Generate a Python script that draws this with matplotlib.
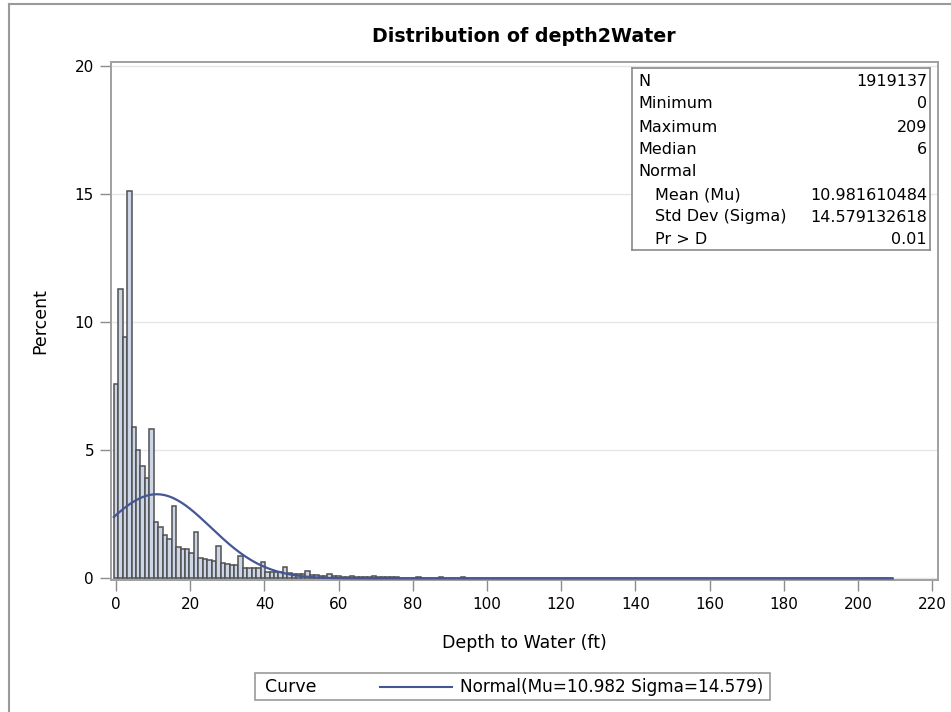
import numpy as np
import matplotlib
matplotlib.use("Agg")
import matplotlib.pyplot as plt
from matplotlib.lines import Line2D
from matplotlib.patches import Rectangle

# =====================
# STYLE
# =====================
plt.rcParams.update({
    "font.family": "DejaVu Sans",
    "font.size": 11,
    "xtick.labelsize": 11,
    "ytick.labelsize": 11,
})

# =====================
# Data
# =====================
bin_width = 1.2
pct = [
    7.6, 11.3, 9.4, 15.1, 5.9, 5.0, 4.4, 3.9, 5.84, 2.2,
    2.0, 1.7, 1.55, 2.84, 1.23, 1.16, 1.13, 0.99, 1.82, 0.81,
    0.76, 0.72, 0.70, 1.27, 0.60, 0.56, 0.54, 0.52, 0.88, 0.40,
    0.40, 0.39, 0.39, 0.66, 0.27, 0.27, 0.25, 0.24, 0.46, 0.20,
    0.19, 0.18, 0.17, 0.28, 0.13, 0.12, 0.11, 0.10, 0.18, 0.08,
    0.08, 0.07, 0.07, 0.11, 0.05, 0.05, 0.05, 0.05, 0.08, 0.04,
    0.04, 0.04, 0.04, 0.07, 0.03, 0.03, 0.03, 0.03, 0.05, 0.03,
    0.03, 0.02, 0.02, 0.04, 0.02, 0.02, 0.02, 0.02, 0.04, 0.02,
    0.02, 0.02, 0.02, 0.03, 0.015, 0.015, 0.015, 0.015, 0.025, 0.01,
    0.01, 0.01, 0.01, 0.018, 0.01, 0.01, 0.01, 0.01, 0.015, 0.008,
    0.008, 0.008, 0.008, 0.012, 0.007, 0.007, 0.007, 0.007, 0.01, 0.006,
    0.006, 0.006, 0.006, 0.009, 0.005, 0.005, 0.005, 0.005, 0.008, 0.005,
    0.005, 0.004, 0.004, 0.007, 0.004, 0.004, 0.004, 0.004, 0.006, 0.004,
    0.004, 0.003, 0.003, 0.005, 0.003, 0.003, 0.003, 0.003, 0.005, 0.003,
    0.003, 0.003, 0.003, 0.004, 0.002, 0.002, 0.002, 0.002, 0.004, 0.002,
    0.002, 0.002, 0.002, 0.003, 0.002, 0.002, 0.002, 0.002, 0.003, 0.002,
    0.002, 0.001, 0.001, 0.002, 0.001, 0.001, 0.001, 0.001, 0.002, 0.001,
    0.001, 0.001, 0.001, 0.002, 0.001,
]

mu = 10.981610484
sigma = 14.579132618

stat_labels = ["N", "Minimum", "Maximum", "Median", "Normal",
               "Mean (Mu)", "Std Dev (Sigma)", "Pr > D"]
stat_values = ["1919137", "0", "209", "6", "",
               "10.981610484", "14.579132618", "0.01"]
stat_indent = [False, False, False, False, False, True, True, True]

x_ticks = list(range(0, 221, 20))
y_ticks = [0, 5, 10, 15, 20]

# =====================
# Figure
# =====================
W, H = 951, 712
fig = plt.figure(figsize=(W / 100, H / 100), dpi=100)
ax = fig.add_axes([110.7 / W, 1 - 580 / H, (938 - 110.7) / W, (580 - 61.7) / H])

centers = bin_width * np.arange(len(pct))
ax.bar(centers, pct, width=bin_width, color="#CDD6E6",
       edgecolor="#505050", linewidth=1.1, zorder=2)

# fitted normal curve (scaled to percent per bin)
xs = np.linspace(centers[0] - bin_width / 2, centers[-1] + bin_width / 2, 600)
ys = 100 * bin_width * np.exp(-0.5 * ((xs - mu) / sigma) ** 2) / (sigma * np.sqrt(2 * np.pi))
ax.plot(xs, ys, color="#445694", linewidth=1.6, zorder=3)

ax.set_xlim(-1.43, 221.6)
ax.set_ylim(-0.06, 20.15)
ax.set_xticks(x_ticks)
ax.set_yticks(y_ticks)
ax.grid(axis="y", color="#e6e6e6", linewidth=1.0, zorder=0)
ax.set_axisbelow(True)
ax.tick_params(direction="out", length=8, width=1, color="#8c8c8c", pad=4)

for s in ax.spines.values():
    s.set_color("#a0a0a0")
    s.set_linewidth(1.4)

ax.set_xlabel("Depth to Water (ft)", fontsize=12.5)
ax.set_ylabel("Percent", fontsize=12.5)
ax.xaxis.set_label_coords(0.5, -0.1216)
ax.xaxis.label.set_va("center")
ax.yaxis.set_label_coords(-0.0855, 0.5)
ax.yaxis.label.set_va("center")

fig.text(524 / W, 1 - 37 / H, "Distribution of depth2Water",
         ha="center", va="center", fontsize=13.7, fontweight="bold")

# =====================
# Stats inset
# =====================
box_l, box_r, box_t, box_b = 632, 930, 68, 250
ins = fig.add_axes([box_l / W, 1 - box_b / H, (box_r - box_l) / W, (box_b - box_t) / H])
ins.set_xticks([])
ins.set_yticks([])
ins.set_xlim(0, 1)
ins.set_ylim(0, 1)
for s in ins.spines.values():
    s.set_color("#8a8a8a")
    s.set_linewidth(1.2)
ins.patch.set_facecolor("white")

row_y = [82, 104, 127, 149, 172, 195, 217, 239]
for lab, val, ind, yy in zip(stat_labels, stat_values, stat_indent, row_y):
    yf = (box_b - yy) / (box_b - box_t)
    ins.text(0.077 if ind else 0.02, yf, lab, ha="left", va="center", fontsize=11.5)
    ins.text(0.99, yf, val, ha="right", va="center", fontsize=11.5)

# =====================
# Legend (bottom)
# =====================
leg_l, leg_r, leg_t, leg_b = 255, 770, 673, 700
fig.patches.append(Rectangle((leg_l / W, 1 - leg_b / H), (leg_r - leg_l) / W,
                             (leg_b - leg_t) / H, transform=fig.transFigure,
                             facecolor="white", edgecolor="#9a9a9a", linewidth=1.2))
leg_y = 1 - 686.5 / H
fig.text(265 / W, leg_y, "Curve", ha="left", va="center", fontsize=12.5)
fig.lines.append(Line2D([380 / W, 452 / W], [leg_y, leg_y], transform=fig.transFigure,
                        color="#445694", linewidth=1.5))
fig.text(460 / W, leg_y, "Normal(Mu=10.982 Sigma=14.579)",
         ha="left", va="center", fontsize=12.2)

# outer frame (left and top edges)
fig.lines.append(Line2D([9 / W, 9 / W], [0, 1 - 4 / H], transform=fig.transFigure,
                        color="#9a9a9a", linewidth=1.5))
fig.lines.append(Line2D([9 / W, 1], [1 - 4 / H, 1 - 4 / H], transform=fig.transFigure,
                        color="#9a9a9a", linewidth=1.5))

fig.savefig("out.png", dpi=100)
plt.close(fig)
